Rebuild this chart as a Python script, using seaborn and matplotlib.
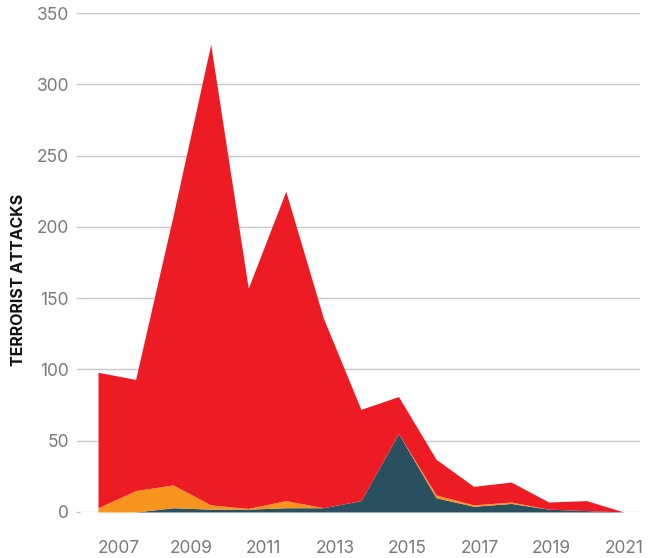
import numpy as np
import pandas as pd
import matplotlib
matplotlib.use("Agg")
import matplotlib.pyplot as plt
import seaborn as sns

# data
years = [2007, 2008, 2009, 2010, 2011, 2012, 2013, 2014,
         2015, 2016, 2017, 2018, 2019, 2020, 2021]
total = [98, 93, 208, 328, 157, 225, 136, 72, 81, 37, 18, 21, 7, 8, 0]
teal = [0, 0, 3, 2, 2, 3, 3, 8, 55, 10, 4, 6, 2, 1, 0]
orange = [3, 15, 16, 3, 0.5, 5, 0, 0, 0, 2, 1, 1, 0, 0, 0]
tick_years = [2007, 2009, 2011, 2013, 2015, 2017, 2019, 2021]

df = pd.DataFrame({"year": years, "total": total, "teal": teal, "orange": orange})
df["red"] = df["total"] - df["teal"] - df["orange"]

sns.set_theme(style="whitegrid")
plt.rcParams["font.family"] = ["Inter", "DejaVu Sans"]

fig = plt.figure(figsize=(6.56, 5.58), dpi=100)
ax = fig.add_axes([80 / 656, 1 - 512 / 558, 560 / 656, 499 / 558])

ax.stackplot(df["year"], df["teal"], df["orange"], df["red"],
             colors=["#2a4f5e", "#f7941d", "#ed1c24"], linewidth=0)

ax.set_xlim(2006.52, 2021.43)
ax.set_ylim(0, 350)
ax.set_yticks(range(0, 351, 50))
# the labels in the original sit slightly off the data points
ax.set_xticks(np.linspace(2007.56, 2021.0, len(tick_years)))
ax.set_xticklabels([str(y) for y in tick_years])

ax.grid(axis="y", color="#c8c8c8", linewidth=1)
ax.grid(axis="x", visible=False)
ax.set_axisbelow(True)
for s in ax.spines.values():
    s.set_visible(False)

ax.tick_params(axis="y", labelsize=12.5, labelcolor="#7a7a7a", length=3,
               color="#c8c8c8", width=1, pad=5, left=True)
ax.tick_params(axis="x", labelsize=12.5, labelcolor="#7a7a7a", length=0, pad=20)

ax.set_ylabel("")
fig.text(19 / 656, 1 - 280 / 558, "TERRORIST ATTACKS", rotation=90,
         ha="center", va="center", fontsize=11.5, fontweight="bold", color="#111111")

fig.savefig("out.png", dpi=100)
